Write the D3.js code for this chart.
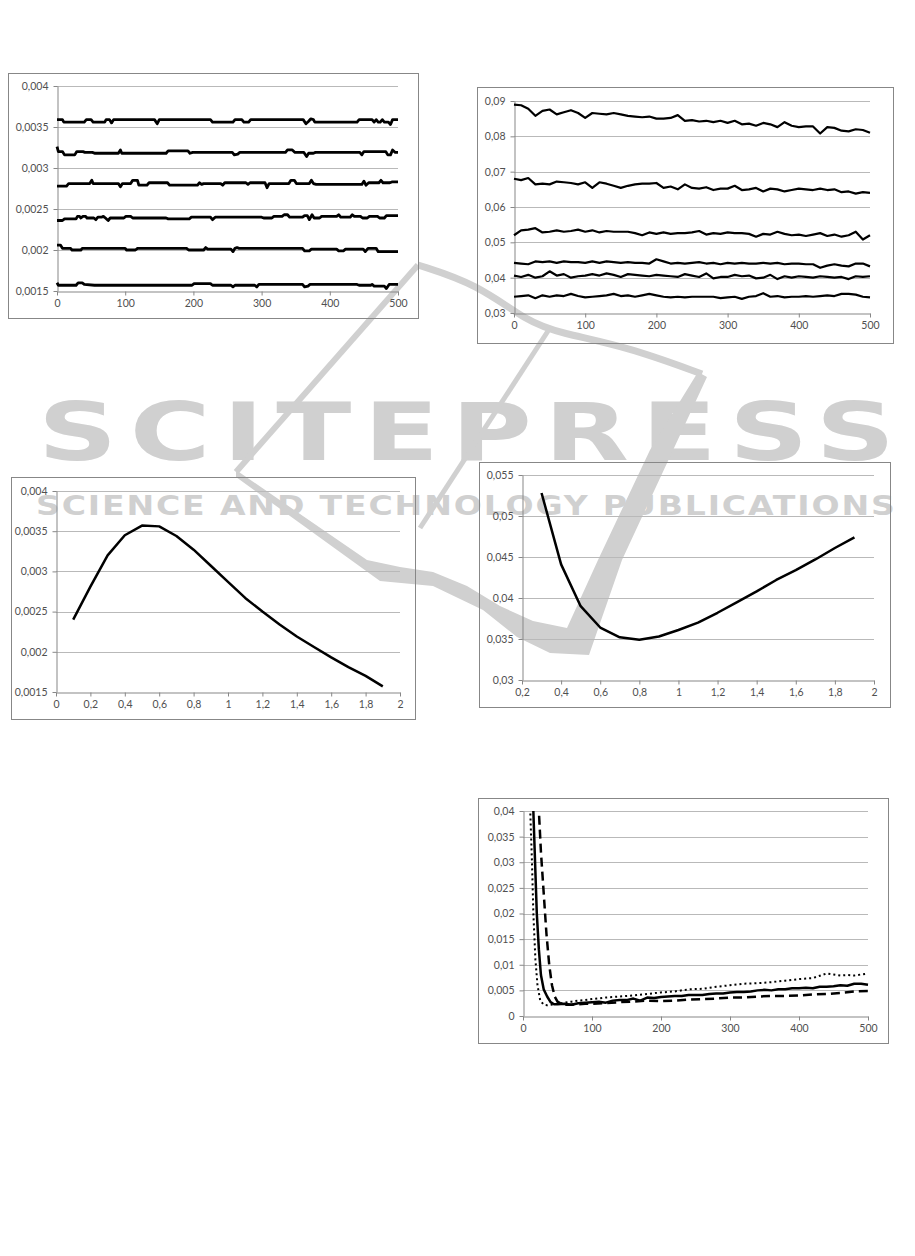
<!DOCTYPE html>
<html>
<head>
<meta charset="utf-8">
<script src="https://cdn.jsdelivr.net/npm/d3@7"></script>
<style>
body { margin: 0; background: #fff; }
svg text { font-family: Lato, "Open Sans", sans-serif; }
</style>
</head>
<body>
<svg id="page" width="915" height="1256"></svg>
<script>
// ---- Chart 1 (top left): six step-like series, x = 0..500
const ticks500 = [0, 100, 200, 300, 400, 500];
const c1Ticks = [0.0015, 0.002, 0.0025, 0.003, 0.0035, 0.004];
const c1s1 = [[0,0.00359],[8,0.00359],[10,0.00356],[40,0.00356],[43,0.00359],[50,0.00359],[53,0.00356],[70,0.00356],[72,0.00359],[77,0.00359],[80,0.00355],[83,0.00359],[143,0.00359],[147,0.00354],[150,0.00359],[225,0.00359],[228,0.00356],[258,0.00356],[261,0.00359],[271,0.00359],[274,0.00356],[281,0.00356],[284,0.00359],[361,0.00359],[365,0.00354],[369,0.00357],[372,0.0036],[376,0.00359],[378,0.00356],[440,0.00356],[443,0.00359],[462,0.00359],[465,0.00356],[468,0.00359],[471,0.00356],[474,0.00356],[477,0.00359],[480,0.00356],[486,0.00356],[489,0.00353],[492,0.00359],[500,0.00359]];
const c1s2 = [[0,0.00326],[2,0.0032],[8,0.0032],[11,0.00316],[26,0.00316],[29,0.0032],[38,0.0032],[41,0.00319],[52,0.00319],[55,0.00318],[90,0.00318],[93,0.00322],[95,0.00318],[160,0.00318],[163,0.00321],[192,0.00321],[195,0.00318],[199,0.00319],[257,0.00319],[260,0.00316],[265,0.00317],[268,0.00319],[335,0.00319],[338,0.00322],[345,0.00322],[349,0.00319],[362,0.00319],[366,0.00314],[369,0.00318],[376,0.00318],[379,0.00319],[444,0.00319],[447,0.00316],[450,0.0032],[482,0.0032],[485,0.00316],[489,0.00316],[492,0.00322],[496,0.00319],[500,0.00319]];
const c1s3 = [[0,0.00278],[14,0.00278],[17,0.00281],[48,0.00281],[51,0.00285],[53,0.00281],[90,0.00281],[93,0.00277],[96,0.00281],[108,0.00281],[111,0.00285],[118,0.00285],[120,0.00279],[132,0.00279],[135,0.00282],[162,0.00282],[165,0.00279],[206,0.00279],[209,0.00282],[212,0.0028],[215,0.00281],[240,0.00281],[243,0.00279],[246,0.00282],[277,0.00282],[280,0.0028],[283,0.00282],[305,0.00282],[308,0.00276],[311,0.00281],[340,0.00281],[343,0.00285],[348,0.00285],[351,0.00281],[370,0.00281],[373,0.00285],[376,0.00281],[380,0.0028],[447,0.0028],[450,0.00284],[453,0.00279],[457,0.00282],[472,0.00282],[475,0.00285],[478,0.00282],[488,0.00282],[491,0.00283],[500,0.00283]];
const c1s4 = [[0,0.00236],[8,0.00236],[11,0.00238],[28,0.00238],[30,0.00241],[33,0.00241],[35,0.00239],[38,0.00241],[42,0.00241],[44,0.00239],[54,0.00239],[57,0.00237],[60,0.0024],[65,0.0024],[68,0.00241],[71,0.00239],[75,0.00236],[78,0.00239],[98,0.00239],[101,0.00241],[108,0.00241],[111,0.00239],[160,0.00239],[163,0.00238],[194,0.00238],[197,0.0024],[225,0.0024],[228,0.00237],[232,0.0024],[300,0.0024],[303,0.00239],[315,0.00239],[318,0.00241],[330,0.00241],[333,0.00243],[338,0.00243],[341,0.0024],[360,0.0024],[363,0.00242],[367,0.00242],[370,0.00237],[374,0.00243],[377,0.00239],[385,0.00239],[388,0.00241],[410,0.00241],[413,0.00243],[416,0.0024],[430,0.0024],[433,0.00243],[436,0.00241],[445,0.00241],[448,0.00239],[455,0.00239],[458,0.00241],[470,0.00241],[473,0.00239],[480,0.00239],[483,0.00242],[500,0.00242]];
const c1s5 = [[0,0.00206],[5,0.00206],[8,0.00202],[20,0.00202],[22,0.002],[35,0.002],[37,0.00202],[100,0.00202],[102,0.002],[115,0.002],[118,0.00202],[190,0.00202],[193,0.002],[215,0.002],[218,0.00203],[221,0.00201],[255,0.00201],[258,0.00198],[261,0.00202],[264,0.00203],[267,0.00202],[360,0.00202],[363,0.00199],[370,0.00199],[373,0.00201],[410,0.00201],[413,0.00199],[420,0.00199],[423,0.00201],[449,0.00201],[452,0.00198],[456,0.00202],[468,0.00202],[471,0.00198],[500,0.00198]];
const c1s6 = [[0,0.0016],[2,0.00157],[28,0.00157],[31,0.0016],[37,0.0016],[40,0.00158],[55,0.00157],[198,0.00157],[201,0.00159],[225,0.00159],[228,0.00157],[255,0.00157],[258,0.00155],[261,0.00157],[290,0.00157],[293,0.00155],[296,0.00158],[360,0.00158],[363,0.00155],[368,0.00156],[371,0.00158],[440,0.00158],[443,0.00157],[460,0.00157],[462,0.00158],[465,0.00156],[480,0.00156],[483,0.00153],[487,0.00158],[500,0.00158]];

// ---- Chart 2 (top right): six noisy series read every 10 steps
const c2X = d3.range(0, 501, 10);
const c2Ticks = [0.03, 0.04, 0.05, 0.06, 0.07, 0.08, 0.09];
const c2a = [0.0890,0.0888,0.0878,0.0858,0.0872,0.0876,0.0862,0.0868,0.0874,0.0866,0.0852,0.0866,0.0864,0.0862,0.0866,0.0862,0.0858,0.0856,0.0854,0.0856,0.0850,0.0850,0.0852,0.0860,0.0844,0.0846,0.0842,0.0844,0.0840,0.0844,0.0838,0.0844,0.0834,0.0836,0.0830,0.0838,0.0834,0.0826,0.0840,0.0830,0.0826,0.0828,0.0828,0.0808,0.0826,0.0824,0.0816,0.0814,0.0820,0.0818,0.0810];
const c2b = [0.0680,0.0676,0.0682,0.0664,0.0666,0.0664,0.0672,0.0670,0.0668,0.0664,0.0670,0.0654,0.0670,0.0666,0.0660,0.0654,0.0660,0.0664,0.0666,0.0666,0.0668,0.0654,0.0658,0.0650,0.0664,0.0654,0.0652,0.0656,0.0648,0.0652,0.0652,0.0660,0.0648,0.0650,0.0654,0.0644,0.0652,0.0650,0.0644,0.0648,0.0652,0.0650,0.0648,0.0652,0.0648,0.0650,0.0642,0.0644,0.0638,0.0642,0.0640];
const c2c = [0.0520,0.0534,0.0536,0.0540,0.0528,0.0530,0.0534,0.0530,0.0532,0.0536,0.0530,0.0534,0.0528,0.0532,0.0530,0.0530,0.0530,0.0526,0.0520,0.0528,0.0524,0.0528,0.0524,0.0526,0.0526,0.0528,0.0532,0.0522,0.0526,0.0524,0.0528,0.0526,0.0526,0.0524,0.0516,0.0524,0.0522,0.0530,0.0524,0.0520,0.0522,0.0518,0.0522,0.0526,0.0518,0.0522,0.0516,0.0520,0.0530,0.0508,0.0520];
const c2d = [0.0442,0.0440,0.0438,0.0446,0.0444,0.0446,0.0442,0.0446,0.0444,0.0444,0.0442,0.0446,0.0442,0.0446,0.0444,0.0442,0.0444,0.0442,0.0442,0.0440,0.0452,0.0446,0.0440,0.0442,0.0440,0.0442,0.0444,0.0440,0.0442,0.0438,0.0442,0.0440,0.0442,0.0440,0.0440,0.0442,0.0440,0.0442,0.0438,0.0440,0.0440,0.0438,0.0438,0.0428,0.0434,0.0438,0.0434,0.0432,0.0440,0.0440,0.0432];
const c2e = [0.0406,0.0402,0.0408,0.0400,0.0404,0.0418,0.0406,0.0410,0.0400,0.0404,0.0406,0.0410,0.0406,0.0412,0.0408,0.0402,0.0410,0.0408,0.0406,0.0404,0.0408,0.0406,0.0404,0.0402,0.0410,0.0406,0.0402,0.0412,0.0398,0.0402,0.0402,0.0408,0.0404,0.0406,0.0398,0.0400,0.0408,0.0396,0.0404,0.0400,0.0404,0.0402,0.0400,0.0404,0.0402,0.0400,0.0402,0.0396,0.0404,0.0402,0.0404];
const c2f = [0.0346,0.0348,0.0350,0.0342,0.0350,0.0346,0.0350,0.0348,0.0354,0.0348,0.0344,0.0346,0.0348,0.0350,0.0354,0.0348,0.0350,0.0346,0.0350,0.0354,0.0350,0.0346,0.0344,0.0346,0.0344,0.0346,0.0346,0.0346,0.0346,0.0342,0.0344,0.0346,0.0340,0.0346,0.0348,0.0356,0.0346,0.0348,0.0344,0.0346,0.0346,0.0348,0.0346,0.0348,0.0350,0.0348,0.0354,0.0354,0.0352,0.0346,0.0344];

// ---- Chart 3 (mid left) and chart 4 (mid right): one curve each
const xTicks0to2 = [0, 0.2, 0.4, 0.6, 0.8, 1, 1.2, 1.4, 1.6, 1.8, 2];
const xTicks02to2 = [0.2, 0.4, 0.6, 0.8, 1, 1.2, 1.4, 1.6, 1.8, 2];
const c3X = [0.1, 0.2, 0.3, 0.4, 0.5, 0.6, 0.7, 0.8, 0.9, 1.0, 1.1, 1.2, 1.3, 1.4, 1.5, 1.6, 1.7, 1.8, 1.9];
const c3Y = [0.0024, 0.00281, 0.0032, 0.00345, 0.00357, 0.00356, 0.00344, 0.00327, 0.00307, 0.00287, 0.00267, 0.0025, 0.00234, 0.00219, 0.00206, 0.00193, 0.00181, 0.0017, 0.00157];
const c4Ticks = [0.03, 0.035, 0.04, 0.045, 0.05, 0.055];
const c4X = [0.3, 0.4, 0.5, 0.6, 0.7, 0.8, 0.9, 1.0, 1.1, 1.2, 1.3, 1.4, 1.5, 1.6, 1.7, 1.8, 1.9];
const c4Y = [0.0528, 0.0441, 0.039, 0.0364, 0.0352, 0.0349, 0.0353, 0.0361, 0.037, 0.0382, 0.0395, 0.0408, 0.0422, 0.0434, 0.0447, 0.0461, 0.0474];

// ---- Chart 5 (bottom right): solid, dashed and dotted series
const c5Ticks = [0, 0.005, 0.01, 0.015, 0.02, 0.025, 0.03, 0.035, 0.04];
const c5solid = [[12,0.05],[15,0.04],[18,0.028],[20,0.02],[23,0.013],[26,0.008],[30,0.0052],[35,0.0038],[40,0.0027],[45,0.0023],[50,0.0023],[60,0.0024],[70,0.0022],[80,0.0025],[90,0.0026],[100,0.0027],[110,0.0028],[120,0.0026],[130,0.003],[140,0.0031],[150,0.0031],[160,0.0034],[170,0.003],[180,0.0036],[190,0.0035],[200,0.0037],[210,0.0038],[220,0.0039],[230,0.0039],[240,0.0041],[250,0.0041],[260,0.0041],[270,0.0043],[280,0.0044],[290,0.0044],[300,0.0046],[310,0.0047],[320,0.0047],[330,0.0048],[340,0.005],[350,0.0051],[360,0.005],[370,0.0052],[380,0.0052],[390,0.0054],[400,0.0054],[410,0.0055],[420,0.0054],[430,0.0057],[440,0.0057],[450,0.0058],[460,0.006],[470,0.0059],[480,0.0063],[490,0.0063],[500,0.0061]];
const c5dashed = [[20,0.05],[23,0.04],[26,0.032],[30,0.024],[34,0.016],[38,0.01],[42,0.006],[46,0.0038],[50,0.0028],[55,0.0024],[60,0.0022],[70,0.0022],[80,0.0023],[90,0.0024],[100,0.0024],[120,0.0025],[140,0.0027],[160,0.0028],[180,0.003],[200,0.0029],[220,0.003],[240,0.0032],[260,0.0033],[280,0.0034],[300,0.0036],[320,0.0036],[340,0.0038],[360,0.0039],[380,0.0039],[400,0.004],[420,0.0042],[440,0.0043],[460,0.0045],[480,0.0048],[500,0.0049]];
const c5dotted = [[5,0.06],[10,0.042],[13,0.03],[15,0.02],[18,0.011],[21,0.006],[25,0.003],[30,0.0022],[35,0.0021],[40,0.0022],[50,0.0024],[60,0.0026],[70,0.0028],[80,0.003],[90,0.0031],[100,0.0033],[120,0.0036],[140,0.0038],[160,0.004],[180,0.0043],[200,0.0046],[220,0.0048],[240,0.0052],[260,0.0053],[280,0.0057],[300,0.006],[320,0.0063],[340,0.0064],[360,0.0066],[380,0.0069],[400,0.0072],[420,0.0074],[440,0.0083],[450,0.0081],[460,0.0079],[470,0.008],[480,0.0079],[490,0.0081],[500,0.0083]];

// ---- Watermark text
const wmTitle = "SCITEPRESS";
const wmSubtitle = "SCIENCE AND TECHNOLOGY PUBLICATIONS";

const svg = d3.select("#page");
const wmColor = "#d0d0d0";
const fmt = v => String(+v.toFixed(6)).replace(".", ",");
const zip = (xs, ys) => xs.map((x, i) => [x, ys[i]]);

// Watermark (drawn first, charts sit on top with no fill)
const wm = svg.append("g");

// stretch a text horizontally so it spans a given width
function wideText(str, x, y, width, size, spacing) {
    const t = wm.append("text")
        .style("font-family", "DejaVu Sans").style("font-weight", "bold")
        .style("font-size", size + "px").style("letter-spacing", spacing + "px")
        .attr("fill", wmColor).text(str);
    const w = t.node().getComputedTextLength() - spacing;
    t.attr("transform", `translate(${x},${y}) scale(${width / w},1)`);
}
wideText(wmTitle, 38, 460, 857, 80, 9);
wideText(wmSubtitle, 36, 515, 859, 27, 1.5);

const wmLine = d3.line();
// swoosh band + right arm of the V
wm.append("path")
    .attr("d", d3.line().curve(d3.curveLinearClosed)([
        [236,470],[367,560],[400,567],[433,572],[467,586],[500,606],[533,621],[567,628],
        [598,560],[650,450],[698,372],[707,377],[622,560],[589,655],
        [550,653],[517,637],[483,610],[433,586],[380,581],[236,477]]))
    .attr("fill", wmColor);
// thin strokes of the logo
wm.append("path").attr("d", wmLine([[418,265],[236,472]]))
    .attr("stroke", wmColor).attr("stroke-width", 6).attr("fill", "none");
wm.append("path").attr("d", d3.line().curve(d3.curveBasis)([[418,265],[477,284],[528,322],[560,333],[628,347],[702,374]]))
    .attr("stroke", wmColor).attr("stroke-width", 7).attr("fill", "none");
wm.append("path").attr("d", wmLine([[548,331],[420,528]]))
    .attr("stroke", wmColor).attr("stroke-width", 5).attr("fill", "none");

let clipId = 0;
function drawChart(cfg) {
    const g = svg.append("g");
    const [fx0, fy0, fx1, fy1] = cfg.frame;
    const [px0, py0, px1, py1] = cfg.plot;
    g.append("rect")
        .attr("x", fx0 + 0.5).attr("y", fy0 + 0.5)
        .attr("width", fx1 - fx0).attr("height", fy1 - fy0)
        .attr("fill", "none").attr("stroke", "#878787");

    const x = d3.scaleLinear().domain(cfg.xDomain).range([px0, px1]);
    const y = d3.scaleLinear().domain(cfg.yDomain).range([py1, py0]);

    // horizontal gridlines
    g.append("g").selectAll("line")
        .data(cfg.yTicks.slice(1))
        .join("line")
        .attr("x1", px0).attr("x2", px1)
        .attr("y1", d => Math.round(y(d)) + 0.5)
        .attr("y2", d => Math.round(y(d)) + 0.5)
        .attr("stroke", "#b9b9b9");

    const xAxis = g.append("g")
        .attr("transform", `translate(0,${Math.round(py1) + 0.5})`)
        .call(d3.axisBottom(x).tickValues(cfg.xTicks).tickFormat(fmt)
            .tickSize(4).tickSizeOuter(0).tickPadding(4));
    const yAxis = g.append("g")
        .attr("transform", `translate(${Math.round(px0) + 0.5},0)`)
        .call(d3.axisLeft(y).tickValues(cfg.yTicks).tickFormat(fmt)
            .tickSize(4).tickSizeOuter(0).tickPadding(5));
    [xAxis, yAxis].forEach(a => {
        a.select(".domain").attr("stroke", "#878787");
        a.selectAll(".tick line").attr("stroke", "#878787");
        a.selectAll("text").attr("fill", "#505050").style("font-size", "10.5px");
    });

    const id = "clip" + (clipId++);
    g.append("clipPath").attr("id", id)
        .append("rect").attr("x", px0 - 3).attr("y", py0)
        .attr("width", px1 - px0 + 6).attr("height", py1 - py0 + 4);

    const line = d3.line().x(d => x(d[0])).y(d => y(d[1]));
    cfg.series.forEach(s => {
        g.append("path")
            .datum(s.points)
            .attr("clip-path", `url(#${id})`)
            .attr("d", line)
            .attr("fill", "none")
            .attr("stroke", "#000")
            .attr("stroke-width", s.width)
            .attr("stroke-linejoin", "round")
            .attr("stroke-dasharray", s.dash || null);
    });
}

drawChart({
    frame: [8, 73, 418, 318], plot: [57, 86, 398, 291],
    xDomain: [0, 500], xTicks: ticks500,
    yDomain: [0.0015, 0.004], yTicks: c1Ticks,
    series: [c1s1, c1s2, c1s3, c1s4, c1s5, c1s6].map(p => ({points: p, width: 2.8}))
});

drawChart({
    frame: [477, 87, 893, 343], plot: [514, 101, 870, 313],
    xDomain: [0, 500], xTicks: ticks500,
    yDomain: [0.03, 0.09], yTicks: c2Ticks,
    series: [c2a, c2b, c2c, c2d, c2e, c2f].map(v => ({points: zip(c2X, v), width: 2.2}))
});

drawChart({
    frame: [11, 477, 415, 719], plot: [56, 491, 400, 692],
    xDomain: [0, 2], xTicks: xTicks0to2,
    yDomain: [0.0015, 0.004], yTicks: c1Ticks,
    series: [{points: zip(c3X, c3Y), width: 2.5}]
});

drawChart({
    frame: [479, 462, 890, 707], plot: [522, 475, 874, 680],
    xDomain: [0.2, 2], xTicks: xTicks02to2,
    yDomain: [0.03, 0.055], yTicks: c4Ticks,
    series: [{points: zip(c4X, c4Y), width: 2.5}]
});

drawChart({
    frame: [478, 798, 888, 1043], plot: [523, 811, 868, 1016],
    xDomain: [0, 500], xTicks: ticks500,
    yDomain: [0, 0.04], yTicks: c5Ticks,
    series: [
        {points: c5dotted, width: 2, dash: "2,3"},
        {points: c5solid, width: 2.5},
        {points: c5dashed, width: 2.5, dash: "9,5"}
    ]
});
</script>
</body>
</html>
